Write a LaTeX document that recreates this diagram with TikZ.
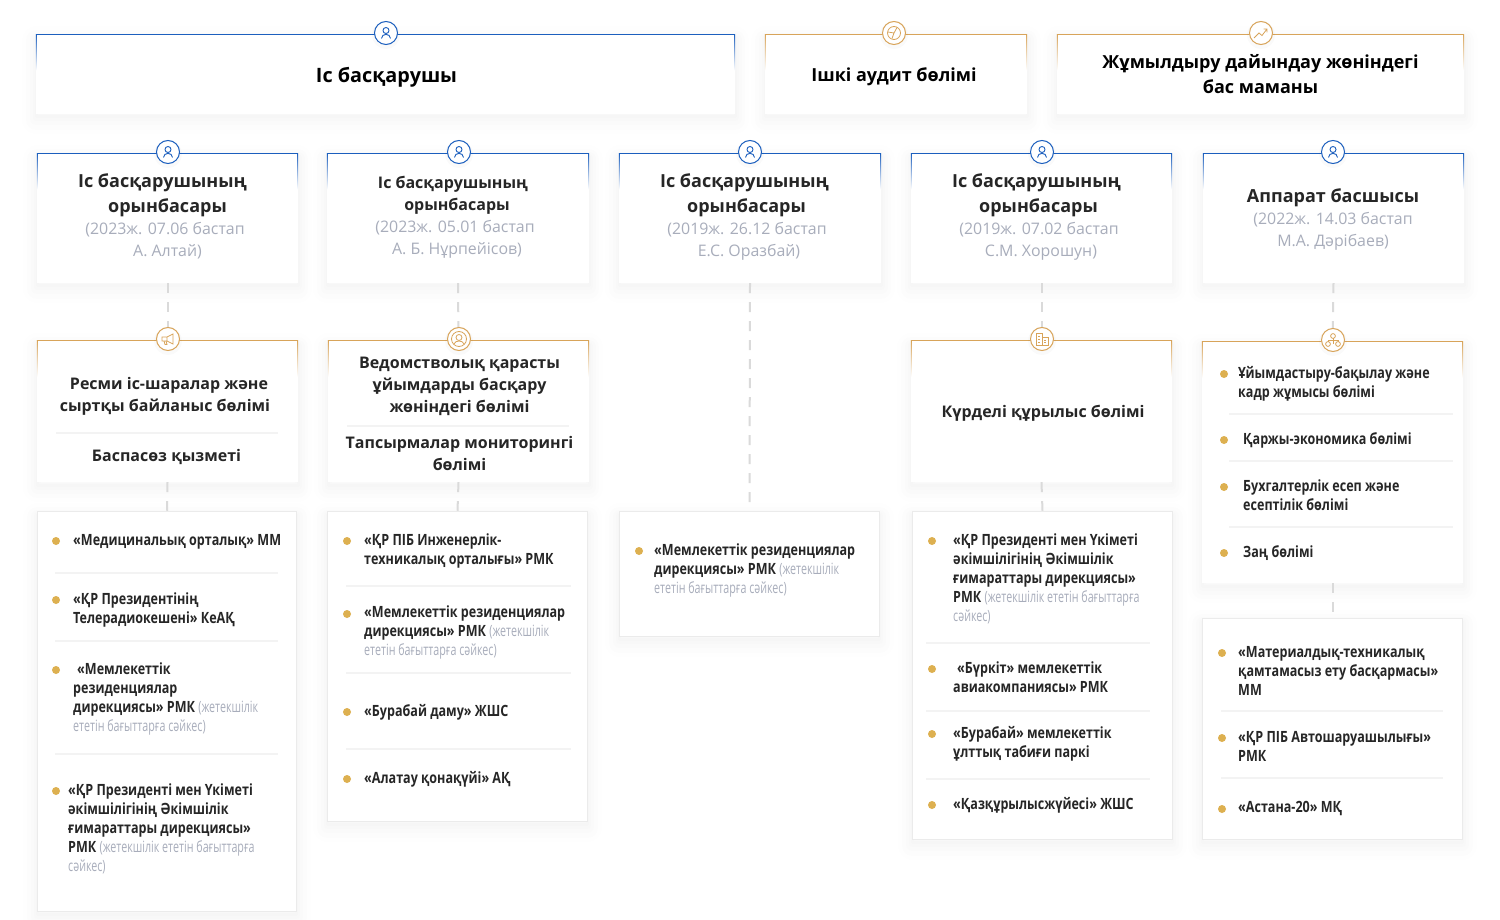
\documentclass[tikz,border=0pt]{standalone}
\usepackage{fontspec}
\setmainfont{Open Sans}
\newfontfamily\condfont[FakeStretch=0.81]{Open Sans}
\newfontfamily\notefont[FakeStretch=0.69]{Open Sans}
\usetikzlibrary{calc}

\definecolor{orgblue}{HTML}{1C5FBE}
\definecolor{orggold}{HTML}{D8A45A}
\definecolor{bulletgold}{HTML}{DDB050}
\definecolor{mutedgray}{HTML}{A8ADBB}
\definecolor{darktext}{HTML}{262626}
\definecolor{dashgray}{HTML}{DADADA}
\definecolor{boxline}{HTML}{EBEBEB}
\definecolor{rulegray}{HTML}{F3F3F3}

\tikzset{
 softshadow/.style={
  preaction={draw=black,draw opacity=.005,line width=28,line join=round,transform canvas={yshift=-6pt}},
  preaction={draw=black,draw opacity=.006,line width=20,line join=round,transform canvas={yshift=-6pt}},
  preaction={draw=black,draw opacity=.007,line width=13,line join=round,transform canvas={yshift=-5pt}},
  preaction={draw=black,draw opacity=.008,line width=7,line join=round,transform canvas={yshift=-4pt}},
  preaction={draw=black,draw opacity=.009,line width=3,line join=round,transform canvas={yshift=-3pt}}},
 card/.style={rectangle,fill=white,inner sep=0,softshadow},
 listbox/.style={card,draw=boxline,line width=1},
 iconring/.style={circle,fill=white,draw=#1,line width=1,minimum size=23,inner sep=0,
  preaction={draw=black,draw opacity=.02,line width=5,transform canvas={yshift=-2pt}}},
 headtext/.style={inner sep=0,yshift=-2pt,align=center,text=black,font=\fontsize{19.8}{25}\selectfont\bfseries},
 titletext/.style={inner sep=0,yshift=-2pt,align=center,text=darktext,font=\fontsize{18}{25}\selectfont\bfseries},
 smalltitle/.style={inner sep=0,yshift=-2pt,align=center,text=darktext,font=\fontsize{16}{22}\selectfont\bfseries},
 subtext/.style={inner sep=0,yshift=-2pt,align=center,text=mutedgray,font=\fontsize{15.9}{22}\selectfont},
 itemtext/.style={inner sep=0,yshift=-2pt,anchor=west,align=left,text=darktext,font=\fontsize{15.5}{19}\selectfont\condfont\bfseries},
 bulletdot/.style={circle,fill=bulletgold,inner sep=0,minimum size=8},
 linkdash/.style={draw=dashgray,line width=2,dash pattern=on 10pt off 9pt},
 itemrule/.style={draw=rulegray,line width=2},
 pics/personicon/.style={code={
  \draw[line width=.9] (0,-2.5) circle[radius=3];
  \draw[line width=.9] (-4.5,5.5) .. controls (-4.5,0) and (4.5,0) .. (4.5,5.5);}},
 pics/pieicon/.style={code={
  \draw[line width=.8] (0,0) circle[radius=6.5];
  \draw[line width=.8] (-2,5.5) -- (0,0) -- (3,-5.5) (0,0) -- (-6,-1);}},
 pics/charticon/.style={code={
  \draw[line width=.8] (-7,5) -- (-2,0) -- (1,2.5) -- (6,-4) (2.5,-4) -- (6,-4) -- (6,-.5);}},
 pics/horn/.style={code={
  \draw[line width=.8] (-6,-2) -- (-6,2) -- (-1,2) -- (5,5) -- (5,-5) -- (-1,-2) -- cycle (-1,-2) -- (-1,2) (-4,2) -- (-3,5.5) -- (-1,5.5) -- (-2,2);}},
 pics/ringperson/.style={code={
  \draw[line width=.8] (0,0) circle[radius=7.5];
  \draw[line width=.8] (0,-1.5) circle[radius=3];
  \draw[line width=.8] (-5,5) .. controls (-4,1) and (4,1) .. (5,5);}},
 pics/blocksicon/.style={code={
  \draw[line width=.8] (-6,6) rectangle (0,-6) (0,6) rectangle (6,-2);
  \draw[line width=.8] (-4,-3) -- (-2,-3) (-4,0) -- (-2,0) (-4,3) -- (-2,3) (2,1) -- (4,1) (2,3.5) -- (4,3.5);}},
 pics/treeicon/.style={code={
  \draw[line width=.8] (0,-4) circle[radius=2.4] (-5,4) circle[radius=2.4] (5,4) circle[radius=2.4];
  \draw[line width=.8] (0,-1.6) -- (0,4) (-5,1.6) -- (-5,0) -- (5,0) -- (5,1.6);}}
}

\newcommand{\mutednote}[1]{{\notefont\mdseries\color{mutedgray}#1}}
% coloured top edge of a card, fading down both sides
\newcommand{\cardtop}[2]{
 \shade[top color=#2,bottom color=white] (#1.north west) rectangle ($(#1.north west)+(1,36)$);
 \shade[top color=#2,bottom color=white] (#1.north east) rectangle ($(#1.north east)+(-1,36)$);
 \draw[#2,line width=1] (#1.north west) -- (#1.north east);
}

\begin{document}
\begin{tikzpicture}[x=1pt,y=-1pt]
\useasboundingbox (0,0) rectangle (1500,920);
\fill[white] (0,0) rectangle (1500,920);

% top row
\node[card,minimum width=699,minimum height=79.5] (chief) at (385.5,74.25) {};
\node[card,minimum width=262,minimum height=79.5] (audit) at (896,74.25) {};
\node[card,minimum width=407,minimum height=79.5] (mobil) at (1260.5,74.25) {};

% deputies
\node[card,minimum width=261,minimum height=129.5] (deputyA) at (167.5,218.25) {};
\node[card,minimum width=262,minimum height=129.5] (deputyB) at (458,218.25) {};
\node[card,minimum width=262,minimum height=129.5] (deputyC) at (750,218.25) {};
\node[card,minimum width=261,minimum height=129.5] (deputyD) at (1041.5,218.25) {};
\node[card,minimum width=261,minimum height=129.5] (deputyE) at (1333.5,218.25) {};

% departments
\node[card,minimum width=261,minimum height=141] (deptA) at (167.5,411.5) {};
\node[card,minimum width=261,minimum height=141] (deptB) at (458.5,411.5) {};
\node[card,minimum width=261,minimum height=141] (deptD) at (1041.5,411.5) {};
\node[card,minimum width=261,minimum height=241] (deptE) at (1332.5,462.5) {};

% lists
\node[listbox,minimum width=259.5,minimum height=400.5] (listA) at (167,711.5) {};
\node[listbox,minimum width=260.5,minimum height=310.5] (listB) at (457.5,666.5) {};
\node[listbox,minimum width=260.5,minimum height=125.5] (listC) at (749.5,574) {};
\node[listbox,minimum width=260.5,minimum height=328.5] (listD) at (1042.5,675.5) {};
\node[listbox,minimum width=260.5,minimum height=221.5] (listE) at (1332.5,729) {};

\draw[linkdash] (deputyA.south) -- (deptA.north);
\draw[linkdash] (deputyB.south) -- (deptB.north);
\draw[linkdash] (deputyC.south) -- (listC.north);
\draw[linkdash] (deputyD.south) -- (deptD.north);
\draw[linkdash] (deputyE.south) -- (deptE.north);
\draw[linkdash] (deptA.south) -- (listA.north);
\draw[linkdash] (deptB.south) -- (listB.north);
\draw[linkdash] (deptD.south) -- (listD.north);
\draw[linkdash] (deptE.south) -- (listE.north);

\foreach \c in {chief,deputyA,deputyB,deputyC,deputyD,deputyE} {\cardtop{\c}{orgblue}}
\foreach \c in {audit,mobil,deptA,deptB,deptD,deptE} {\cardtop{\c}{orggold}}

% icons
\foreach \n/\x/\y/\p/\col in {icChief/386/33/personicon/orgblue,icAudit/894/33/pieicon/orggold,icMobil/1261/33/charticon/orggold,
  icDepA/168/152/personicon/orgblue,icDepB/459/152/personicon/orgblue,icDepC/750/152/personicon/orgblue,
  icDepD/1042/152/personicon/orgblue,icDepE/1333/152/personicon/orgblue,
  icDeptA/168/339/horn/orggold,icDeptB/459/339/ringperson/orggold,icDeptD/1042/339/blocksicon/orggold,icDeptE/1333/340/treeicon/orggold}
{
 \node[iconring=\col] (\n) at (\x,\y) {};
 \pic[\col] at (\n) {\p};
}

% titles
\node[headtext] (tChief) at (386.5,75) {Іс басқарушы};
\node[titletext,text=black] (tAudit) at (894,75) {Ішкі аудит бөлімі};
\node[titletext,text=black] (tMobil) at (1260.5,72.5) {Жұмылдыру дайындау жөніндегі\\бас маманы};

\node[titletext] (tDepA) at (162.5,193.5) {Іс басқарушының\\\hspace{10pt}орынбасары};
\node[subtext] (sDepA) at (165,239) {(2023ж. 07.06 бастап\\\hspace{5pt}А. Алтай)};
\node[smalltitle] (tDepB) at (453,193) {Іс басқарушының\\\hspace{8pt}орынбасары};
\node[subtext] (sDepB) at (455,237) {(2023ж. 05.01 бастап\\\hspace{4pt}А. Б. Нұрпейісов)};
\node[titletext] (tDepC) at (744.5,193.5) {Іс басқарушының\\\hspace{4pt}орынбасары};
\node[subtext] (sDepC) at (747,239) {(2019ж. 26.12 бастап\\\hspace{4pt}Е.С. Оразбай)};
\node[titletext] (tDepD) at (1036.5,193.5) {Іс басқарушының\\\hspace{4pt}орынбасары};
\node[subtext] (sDepD) at (1039,239) {(2019ж. 07.02 бастап\\\hspace{4pt}С.М. Хорошун)};
\node[titletext] (tDepE) at (1333,196) {Аппарат басшысы};
\node[subtext] (sDepE) at (1333,229) {(2022ж. 14.03 бастап\\М.А. Дәрібаев)};

\node[smalltitle] (tDeptA) at (165,394) {\hspace{8pt}Ресми іс-шаралар және\\сыртқы байланыс бөлімі};
\draw[itemrule] (56,433) -- (278,433);
\node[smalltitle] (tPress) at (166.5,455) {Баспасөз қызметі};
\node[smalltitle] (tDeptB) at (459.5,384) {Ведомстволық қарасты\\ұйымдарды басқару\\жөніндегі бөлімі};
\draw[itemrule] (347,426) -- (569,426);
\node[smalltitle] (tMonit) at (459.5,451) {Тапсырмалар мониторингі\\бөлімі};
\node[smalltitle] (tDeptD) at (1043,411) {Күрделі құрылыс бөлімі};

% bullets
\foreach \x/\y [count=\i] in {56/541,56/600,56/670,56/791,347/541,347/614,347/712,347/779,639/551,
  932/541,932/669,932/734,932/805,1224/374,1224/440,1224/487,1224/553,1222/653,1222/738,1222/809}
 \node[bulletdot] (bul\i) at (\x,\y) {};

% rules between items
\foreach \a/\b/\y in {55/278/573,55/278/641,55/278/754,346/571/586,346/571/673,346/571/749,
  926/1150/643,926/1150/711,926/1150/779,1229/1453/414,1229/1453/461,1229/1453/527,1221/1443/711,1221/1443/778}
 \draw[itemrule] (\a,\y) -- (\b,\y);

% first list
\node[itemtext] (itA1) at (73,540) {«Медицинальық орталық» ММ};
\node[itemtext] (itA2) at (73,607.5) {«ҚР Президентінің\\Телерадиокешені» КеАҚ};
\node[itemtext] (itA3) at (73,696.5) {\hspace{4pt}«Мемлекеттік\\резиденциялар\\дирекциясы» РМК \mutednote{(жетекшілік}\\\mutednote{ететін бағыттарға сәйкес)}};
\node[itemtext] (itA4) at (68,827) {«ҚР Президенті мен Үкіметі\\әкімшілігінің Әкімшілік\\ғимараттары дирекциясы»\\РМК \mutednote{(жетекшілік ететін бағыттарға}\\\mutednote{сәйкес)}};

% second list
\node[itemtext] (itB1) at (364,548.5) {«ҚР ПІБ Инженерлік-\\техникалық орталығы» РМК};
\node[itemtext] (itB2) at (364,630) {«Мемлекеттік резиденциялар\\дирекциясы» РМК \mutednote{(жетекшілік}\\\mutednote{ететін бағыттарға сәйкес)}};
\node[itemtext] (itB3) at (364,710) {«Бурабай даму» ЖШС};
\node[itemtext] (itB4) at (364,777) {«Алатау қонақүйі» АҚ};

% third list
\node[itemtext] (itC1) at (654,568) {«Мемлекеттік резиденциялар\\дирекциясы» РМК \mutednote{(жетекшілік}\\\mutednote{ететін бағыттарға сәйкес)}};

% fourth list
\node[itemtext] (itD1) at (953,577) {«ҚР Президенті мен Үкіметі\\әкімшілігінің Әкімшілік\\ғимараттары дирекциясы»\\РМК \mutednote{(жетекшілік ететін бағыттарға}\\\mutednote{сәйкес)}};
\node[itemtext] (itD2) at (953,675.5) {\hspace{4pt}«Бүркіт» мемлекеттік\\авиакомпаниясы» РМК};
\node[itemtext] (itD3) at (953,741.5) {«Бурабай» мемлекеттік\\ұлттық табиғи паркі};
\node[itemtext] (itD4) at (953,803) {«Қазқұрылысжүйесі» ЖШС};

% fifth column
\node[itemtext] (itE1) at (1238,381.5) {Ұйымдастыру-бақылау және\\кадр жұмысы бөлімі};
\node[itemtext] (itE2) at (1243,438) {Қаржы-экономика бөлімі};
\node[itemtext] (itE3) at (1243,493.5) {Бухгалтерлік есеп және\\есептілік бөлімі};
\node[itemtext] (itE4) at (1243,551) {Заң бөлімі};
\node[itemtext] (itE5) at (1238,669) {«Материалдық-техникалық\\қамтамасыз ету басқармасы»\\ММ};
\node[itemtext] (itE6) at (1238,744.5) {«ҚР ПІБ Автошаруашылығы»\\РМК};
\node[itemtext] (itE7) at (1238,806) {«Астана-20» МҚ};

\end{tikzpicture}
\end{document}
